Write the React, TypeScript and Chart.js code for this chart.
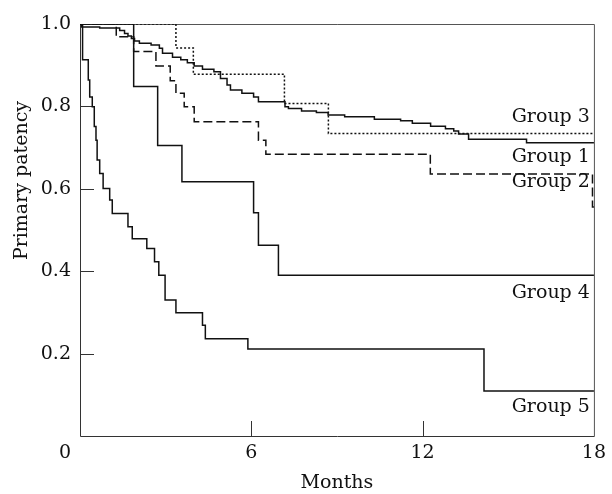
import React, { useEffect, useRef } from "react";
import { Chart, registerables } from "chart.js";

Chart.register(...registerables);

// ---- data ----
const groupNames = ["Group 1", "Group 2", "Group 3", "Group 4", "Group 5"];

const g1Months = [0, 0.06, 0.69, 1.39, 1.56, 1.68, 1.8, 1.91, 2.08, 2.49, 2.78, 2.89, 3.24, 3.53, 3.76, 4.0, 4.29, 4.69, 4.92, 5.15, 5.27, 5.67, 6.08, 6.25, 7.18, 7.3, 7.76, 8.28, 8.69, 9.27, 10.31, 11.23, 11.64, 12.28, 12.8, 13.09, 13.26, 13.61, 15.64, 18];
const g1Values = [1.0, 0.993, 0.99, 0.984, 0.977, 0.971, 0.965, 0.959, 0.953, 0.949, 0.941, 0.929, 0.919, 0.913, 0.906, 0.898, 0.89, 0.884, 0.868, 0.852, 0.84, 0.832, 0.823, 0.811, 0.799, 0.795, 0.789, 0.785, 0.779, 0.775, 0.769, 0.765, 0.759, 0.752, 0.746, 0.74, 0.733, 0.72, 0.712, 0.712];

const g2Months = [0, 1.27, 1.88, 2.66, 3.16, 3.36, 3.65, 4.0, 6.25, 6.51, 12.27, 17.95, 18];
const g2Values = [1.0, 0.969, 0.933, 0.898, 0.862, 0.832, 0.799, 0.763, 0.718, 0.684, 0.636, 0.556, 0.556];

const g3Months = [0, 3.36, 3.97, 7.16, 8.7, 18];
const g3Values = [1.0, 0.942, 0.878, 0.807, 0.734, 0.734];

const g4Months = [0, 1.88, 2.72, 3.57, 6.08, 6.25, 6.95, 18];
const g4Values = [1.0, 0.848, 0.705, 0.617, 0.542, 0.463, 0.39, 0.39];

const g5Months = [0, 0.09, 0.29, 0.34, 0.43, 0.5, 0.56, 0.6, 0.69, 0.81, 1.04, 1.13, 1.68, 1.83, 2.34, 2.61, 2.76, 2.98, 3.36, 4.29, 4.39, 5.88, 14.15, 18];
const g5Values = [1.0, 0.913, 0.864, 0.823, 0.799, 0.751, 0.718, 0.67, 0.637, 0.601, 0.573, 0.54, 0.508, 0.479, 0.455, 0.423, 0.39, 0.33, 0.299, 0.269, 0.236, 0.211, 0.109, 0.109];

// label anchor values (in patency units) for the right-hand group labels
const labelAnchors = [0.678, 0.617, 0.775, 0.347, 0.07];

const xTicks = [0, 6, 12, 18];
const yTicks = [0, 0.2, 0.4, 0.6, 0.8, 1.0];

const FONT = "'DejaVu Serif', 'Liberation Serif', serif";
const FSIZE = 19;
const INK = "#111";

const toPts = (xs: number[], ys: number[]) => xs.map((x, i) => ({ x, y: ys[i] }));

const decorPlugin = {
  id: "decor",
  beforeDatasetsDraw(chart: any) {
    const { ctx, chartArea: a } = chart;
    const xs = chart.scales.x;
    const ys = chart.scales.y;
    ctx.save();
    // frame
    ctx.strokeStyle = "#555";
    ctx.lineWidth = 1;
    ctx.beginPath();
    ctx.moveTo(a.left, a.top + 0.5);
    ctx.lineTo(a.right + 0.5, a.top + 0.5);
    ctx.lineTo(a.right + 0.5, a.bottom + 0.5);
    ctx.stroke();
    ctx.strokeStyle = "#333";
    ctx.beginPath();
    ctx.moveTo(a.left + 0.5, a.top);
    ctx.lineTo(a.left + 0.5, a.bottom + 0.5);
    ctx.lineTo(a.right + 0.5, a.bottom + 0.5);
    ctx.stroke();
    // inner tick marks
    ctx.beginPath();
    yTicks.forEach((v) => {
      if (v <= 0 || v >= 1) return;
      const py = Math.round(ys.getPixelForValue(v)) + 0.5;
      ctx.moveTo(a.left, py);
      ctx.lineTo(a.left + 14, py);
    });
    xTicks.forEach((v) => {
      if (v <= 0 || v >= 18) return;
      const px = Math.round(xs.getPixelForValue(v)) + 0.5;
      ctx.moveTo(px, a.bottom);
      ctx.lineTo(px, a.bottom - 15);
    });
    ctx.stroke();
    ctx.restore();
  },
  afterDraw(chart: any) {
    const { ctx, chartArea: a } = chart;
    const xs = chart.scales.x;
    const ys = chart.scales.y;
    ctx.save();
    ctx.fillStyle = INK;
    ctx.font = `${FSIZE}px ${FONT}`;
    // group labels
    ctx.textAlign = "right";
    ctx.textBaseline = "middle";
    groupNames.forEach((name, i) => {
      ctx.fillText(name, a.right - 4, ys.getPixelForValue(labelAnchors[i]));
    });
    // origin label
    ctx.textAlign = "center";
    ctx.fillText("0", xs.getPixelForValue(0) - 15, a.bottom + 6 + FSIZE * 0.6);
    // y axis title
    ctx.translate(22, ys.getPixelForValue(0.62));
    ctx.rotate(-Math.PI / 2);
    ctx.textAlign = "center";
    ctx.fillText("Primary patency", 0, 0);
    ctx.restore();
  },
};

export default function App() {
  const ref = useRef<HTMLCanvasElement | null>(null);

  useEffect(() => {
    if (!ref.current) return;
    const common = {
      borderColor: INK,
      borderWidth: 1.5,
      pointRadius: 0,
      stepped: true as any,
      fill: false,
    };
    const chart = new Chart(ref.current, {
      type: "line",
      data: {
        datasets: [
          { ...common, label: groupNames[0], data: toPts(g1Months, g1Values) },
          { ...common, label: groupNames[1], data: toPts(g2Months, g2Values), borderDash: [9, 4] },
          { ...common, label: groupNames[2], data: toPts(g3Months, g3Values), borderDash: [2, 2] },
          { ...common, label: groupNames[3], data: toPts(g4Months, g4Values) },
          { ...common, label: groupNames[4], data: toPts(g5Months, g5Values) },
        ],
      },
      options: {
        animation: false,
        responsive: true,
        maintainAspectRatio: false,
        layout: { padding: { left: 0, right: 14, top: 24, bottom: 0 } },
        plugins: { legend: { display: false }, tooltip: { enabled: false } },
        scales: {
          x: {
            type: "linear",
            min: 0,
            max: 18,
            afterFit: (s: any) => {
              s.height = 58;
            },
            afterBuildTicks: (s: any) => {
              s.ticks = xTicks.map((v) => ({ value: v }));
            },
            ticks: {
              padding: 6,
              color: INK,
              font: { family: FONT, size: FSIZE },
              callback: (v: any) => (v === 0 ? "" : String(v)),
              maxRotation: 0,
            },
            grid: { display: false, drawTicks: false },
            border: { display: false },
            title: {
              display: true,
              text: "Months",
              color: INK,
              font: { family: FONT, size: FSIZE },
              padding: { top: 0, bottom: 0 },
            },
          },
          y: {
            type: "linear",
            min: 0,
            max: 1,
            afterFit: (s: any) => {
              s.width = 80;
            },
            afterBuildTicks: (s: any) => {
              s.ticks = yTicks.map((v) => ({ value: v }));
            },
            ticks: {
              padding: 9,
              color: INK,
              font: { family: FONT, size: FSIZE },
              callback: (v: any) => (v === 0 ? "" : Number(v).toFixed(1)),
            },
            grid: { display: false, drawTicks: false },
            border: { display: false },
          },
        },
      },
      plugins: [decorPlugin],
    });
    return () => chart.destroy();
  }, []);

  return (
    <div style={{ position: "fixed", left: 0, top: 0, width: 612, height: 494, background: "#fff" }}>
      <canvas ref={ref} />
    </div>
  );
}
